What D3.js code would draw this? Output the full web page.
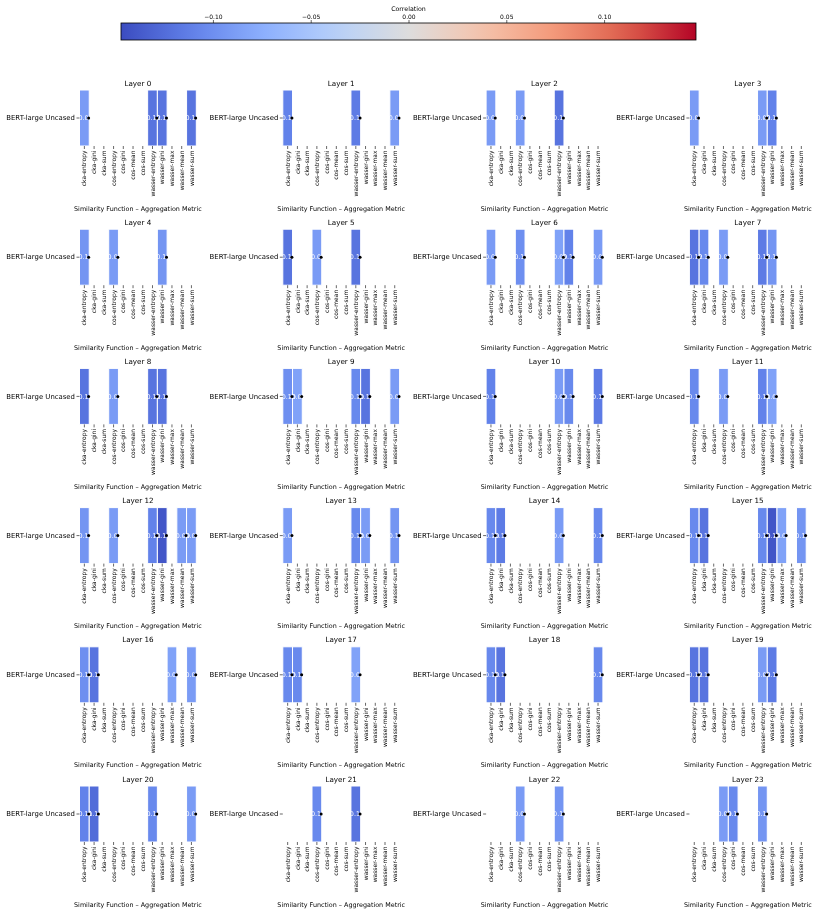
<!DOCTYPE html>
<html>
<head>
<meta charset="utf-8">
<script src="https://cdn.jsdelivr.net/npm/d3@7"></script>
<style>
  html, body { margin: 0; padding: 0; background: #fff; }
  svg { display: block; font-family: "DejaVu Sans", sans-serif; transform: translateZ(0); }
  text { text-rendering: geometricPrecision; }
</style>
</head>
<body>
<svg id="chart" width="822" height="916"></svg>
<script>
// ---------------- data ----------------
const metrics = ["cka-entropy","cka-gini","cka-sum","cos-entropy","cos-gini","cos-mean","cos-sum",
                 "wasser-entropy","wasser-gini","wasser-max","wasser-mean","wasser-sum"];
const modelName = "BERT-large Uncased";
const layers = d3.range(24);
const colorTicks = [-0.10, -0.05, 0.00, 0.05, 0.10];
const colorDomain = [-0.147, 0.147];
const xLabel = "Similarity Function \u2013 Aggregation Metric";
const colorLabel = "Correlation";
// one row per layer, 12 columns (null = not significant, not drawn)
const N = null;
const layerValues = [
  [-0.09, N, N, N, N, N, N, -0.12, -0.12, N, N, -0.12],      // 0
  [-0.11, N, N, N, N, N, N, -0.115, N, N, N, -0.09],         // 1
  [-0.09, N, N, -0.09, N, N, N, -0.12, N, N, N, N],          // 2
  [-0.09, N, N, N, N, N, N, -0.09, -0.11, N, N, N],          // 3
  [-0.095, N, N, -0.09, N, N, N, N, -0.095, N, N, N],        // 4
  [-0.12, N, N, -0.09, N, N, N, -0.12, N, N, N, N],          // 5
  [-0.09, N, N, -0.10, N, N, N, -0.085, -0.11, N, N, -0.09], // 6
  [-0.12, -0.105, N, -0.09, N, N, N, -0.115, -0.095, N, N, N], // 7
  [-0.12, N, N, -0.09, N, N, N, -0.12, -0.12, N, N, N],      // 8
  [-0.10, -0.085, N, N, N, N, N, -0.105, -0.12, N, N, -0.09], // 9
  [-0.11, N, N, N, N, N, N, -0.09, -0.105, N, N, -0.115],    // 10
  [-0.105, N, N, -0.09, N, N, N, -0.11, -0.085, N, N, N],    // 11
  [-0.095, N, N, -0.09, N, N, N, -0.11, -0.14, N, -0.09, -0.09], // 12
  [-0.09, N, N, N, N, N, N, -0.105, -0.09, N, N, -0.095],    // 13
  [-0.105, -0.115, N, N, N, N, N, -0.09, N, N, N, -0.105],   // 14
  [-0.105, -0.12, N, N, N, N, N, -0.105, -0.14, -0.085, N, -0.095], // 15
  [-0.10, -0.12, N, N, N, N, N, N, N, -0.085, N, -0.09],     // 16
  [-0.105, -0.105, N, N, N, N, N, -0.085, N, N, N, N],       // 17
  [-0.105, -0.12, N, N, N, N, N, N, N, N, N, -0.105],        // 18
  [-0.12, -0.12, N, N, N, N, N, -0.09, -0.115, N, N, N],     // 19
  [-0.11, -0.125, N, N, N, N, N, -0.105, N, N, N, -0.09],    // 20
  [N, N, N, -0.105, N, N, N, -0.12, N, N, N, N],             // 21
  [N, N, N, -0.09, N, N, N, -0.095, N, N, N, N],             // 22
  [N, N, N, -0.09, -0.105, N, N, -0.095, N, N, N, N]         // 23
];

// ---------------- colour map (coolwarm) ----------------
const coolwarmStops = ["#3b4cc0","#6282ea","#8db0fe","#b8d0f9","#dddddd","#f5c4ad","#f49a7b","#de604d","#b40426"];
const interp = d3.piecewise(d3.interpolateRgb, coolwarmStops);
const color = d3.scaleSequential(interp).domain(colorDomain).clamp(true);

const svg = d3.select("#chart");
const fmt = d3.format(".2f");
const annFmt = v => fmt(v).replace("\u2212", "-");

// ---------------- colour bar ----------------
const cb = {x0: 121, x1: 696, y: 23, h: 17};
const cbScale = d3.scaleLinear().domain(colorDomain).range([cb.x0, cb.x1]);
const defs = svg.append("defs");
const grad = defs.append("linearGradient").attr("id", "cbgrad").attr("x1", "0%").attr("x2", "100%");
d3.range(0, 1.0001, 0.05).forEach(t => {
  grad.append("stop").attr("offset", (t * 100) + "%").attr("stop-color", interp(t));
});
svg.append("rect").attr("x", cb.x0).attr("y", cb.y).attr("width", cb.x1 - cb.x0).attr("height", cb.h)
  .attr("fill", "url(#cbgrad)").attr("stroke", "#000").attr("stroke-width", 0.8);
const cbAxis = d3.axisTop(cbScale).tickValues(colorTicks).tickSize(3).tickPadding(1.5).tickFormat(fmt);
const cbg = svg.append("g").attr("transform", `translate(0,${cb.y})`).call(cbAxis);
cbg.select(".domain").remove();
cbg.selectAll("text").attr("font-size", 6).attr("font-family", "DejaVu Sans").attr("fill", "#000");
cbg.selectAll("line").attr("stroke", "#000").attr("stroke-width", 0.6);
svg.append("text").attr("x", cbScale(0)).attr("y", 11).attr("text-anchor", "middle")
  .attr("font-size", 6.3).attr("fill", "#000").text(colorLabel);

// ---------------- panels ----------------
const panelW = 116.8, panelH = 56;
const colX0 = 79.5, colStep = 203.3;
const rowY0 = 90, rowStep = 139.2;
const x = d3.scaleBand().domain(metrics).range([0, panelW]).padding(0);
const y = d3.scaleBand().domain([modelName]).range([0, panelH]).padding(0);

layers.forEach((layer, i) => {
  const cx = colX0 + (i % 4) * colStep;
  const cy = rowY0 + Math.floor(i / 4) * rowStep;
  const g = svg.append("g").attr("transform", `translate(${cx},${cy})`);
  const cells = metrics.map((m, j) => ({m, v: layerValues[i][j]})).filter(d => d.v !== null);

  g.selectAll("rect.cell").data(cells).enter().append("rect")
    .attr("class", "cell")
    .attr("x", d => x(d.m)).attr("y", y(modelName))
    .attr("width", x.bandwidth()).attr("height", y.bandwidth())
    .attr("fill", d => color(d.v)).attr("stroke", "#fff").attr("stroke-width", 1);

  g.selectAll("text.ann").data(cells).enter().append("text")
    .attr("class", "ann")
    .attr("x", d => x(d.m) + x.bandwidth() / 2).attr("y", y(modelName) + y.bandwidth() / 2)
    .attr("dy", "0.35em").attr("text-anchor", "middle")
    .attr("font-size", 6.4).attr("fill", "#fff").text(d => annFmt(d.v));

  g.selectAll("circle.mark").data(cells).enter().append("circle")
    .attr("class", "mark")
    .attr("cx", d => x(d.m) + x.bandwidth() - 0.6).attr("cy", y(modelName) + y.bandwidth() / 2)
    .attr("r", 1.5).attr("fill", "#000");

  // x axis
  const xa = g.append("g").attr("transform", `translate(0,${panelH})`)
    .call(d3.axisBottom(x).tickSize(3).tickPadding(1.5));
  xa.select(".domain").remove();
  xa.selectAll("line").attr("stroke", "#000").attr("stroke-width", 0.6);
  xa.selectAll("text")
    .attr("font-size", 6.0).attr("font-family", "DejaVu Sans").attr("fill", "#000")
    .attr("transform", "rotate(-90)").attr("text-anchor", "end")
    .attr("x", -4.5).attr("y", 0).attr("dy", "0.35em");

  // y axis
  const ya = g.append("g").call(d3.axisLeft(y).tickSize(3).tickPadding(1.5));
  ya.select(".domain").remove();
  ya.selectAll("line").attr("stroke", "#000").attr("stroke-width", 0.6);
  ya.selectAll("text").attr("font-size", 6.9).attr("font-family", "DejaVu Sans").attr("fill", "#000");

  // title
  g.append("text").attr("x", panelW / 2).attr("y", -4.5).attr("text-anchor", "middle")
    .attr("font-size", 7.2).attr("fill", "#000").text("Layer " + layer);
  // x label
  g.append("text").attr("x", panelW / 2).attr("y", 120.5).attr("text-anchor", "middle")
    .attr("font-size", 6.4).attr("fill", "#000").text(xLabel);
});
</script>
</body>
</html>
